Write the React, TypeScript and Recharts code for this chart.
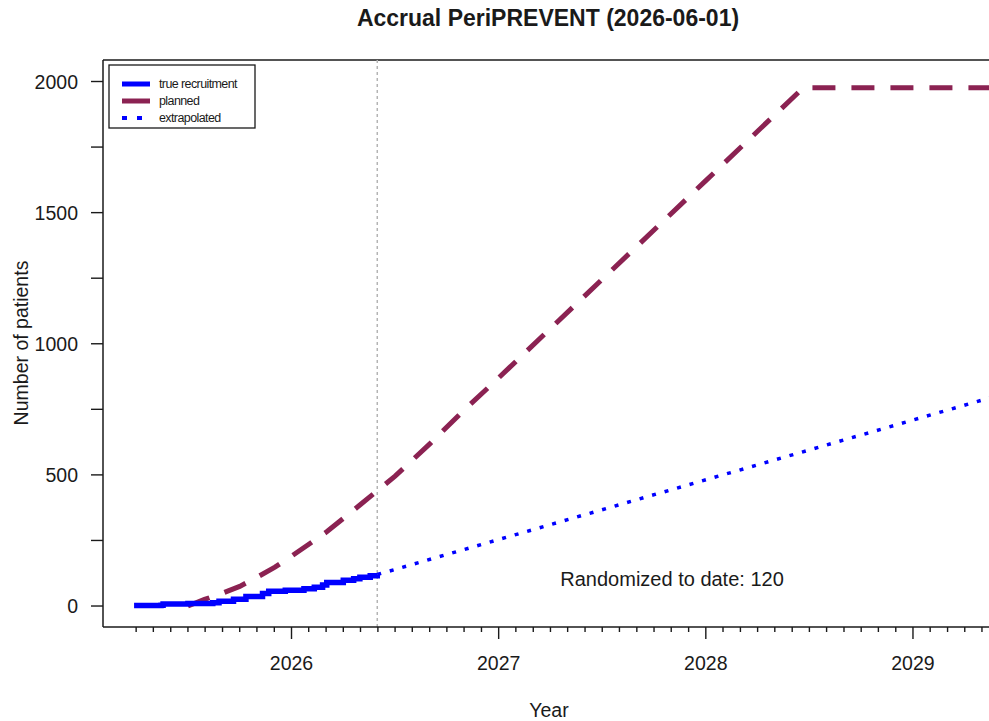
import React from "react";
import {
  LineChart,
  Line,
  XAxis,
  YAxis,
  ReferenceLine,
  ReferenceDot,
} from "recharts";

// cumulative randomized patients (decimal year)
const actualYears = [
  2025.24, 2025.37, 2025.38, 2025.5, 2025.62, 2025.65, 2025.72, 2025.78, 2025.86, 2025.89,
  2025.97, 2026.06, 2026.11, 2026.15, 2026.17, 2026.25, 2026.3, 2026.33, 2026.38, 2026.414,
];
const actualCounts = [2, 3, 8, 10, 12, 18, 26, 36, 48, 56, 60, 66, 72, 80, 90, 98, 104, 110, 115, 120];

const plannedYears = [
  2025.5, 2025.58, 2025.67, 2025.75, 2025.83, 2025.92, 2026.0, 2026.17, 2026.33, 2026.5,
  2026.67, 2026.83, 2027.0, 2027.5, 2028.0, 2028.47, 2029.5,
];
const plannedCounts = [0, 25, 50, 75, 108, 148, 190, 283, 385, 495, 620, 745, 870, 1246, 1622, 1976, 1976];

const extrapYears = [2026.414, 2029.5];
const extrapCounts = [120, 823];

const yearTicks = [2026, 2027, 2028, 2029];
const countTicks = [0, 250, 500, 750, 1000, 1250, 1500, 1750, 2000];
const labelledCounts = [0, 500, 1000, 1500, 2000];
const firstMonthTick = 2025.25;
const monthTickCount = 50;

const cutoffYear = 2026.414;
const randomizedToDate = 120;

const X_MIN = 2025.09;
const X_MAX = 2029.367;
const Y_MIN = -80;
const Y_MAX = 2082;

const FONT = '"Liberation Sans", Arial, Helvetica, sans-serif';
const INK = "#1a1a1a";
const BLUE = "#0000ff";
const PLUM = "#8b2252";

const toSeries = (xs: number[], ys: number[]) => xs.map((t, i) => ({ t, n: ys[i] }));

const actualData = toSeries(actualYears, actualCounts);
const plannedData = toSeries(plannedYears, plannedCounts);
const extrapData = toSeries(extrapYears, extrapCounts);

const monthTicks: number[] = [];
for (let i = 0; i < monthTickCount; i++) {
  const v = Math.round((firstMonthTick + i / 12) * 1000) / 1000;
  if (v <= X_MAX) monthTicks.push(v);
}
const xTicks = Array.from(new Set([...monthTicks, ...yearTicks])).sort((a, b) => a - b);

const XTick = (props: any) => {
  const { x, y, payload } = props;
  const v = payload.value;
  const major = yearTicks.some((yr) => Math.abs(yr - v) < 0.01);
  return (
    <g>
      <line x1={x} x2={x} y1={y} y2={y + (major ? 12 : 5)} stroke={INK} strokeWidth={1.4} />
      {major && (
        <text x={x} y={y + 43} textAnchor="middle" fontFamily={FONT} fontSize={19.5} fill={INK}>
          {Math.round(v)}
        </text>
      )}
    </g>
  );
};

const YTick = (props: any) => {
  const { x, y, payload } = props;
  const v = payload.value;
  const labelled = labelledCounts.includes(v);
  return (
    <g>
      <line x1={x - 12} x2={x} y1={y} y2={y} stroke={INK} strokeWidth={1.4} />
      {labelled && (
        <text x={x - 25} y={y + 7} textAnchor="end" fontFamily={FONT} fontSize={19.5} fill={INK}>
          {v}
        </text>
      )}
    </g>
  );
};

const legendItems = [
  { label: "true recruitment", color: BLUE, width: 5, dash: undefined as string | undefined },
  { label: "planned", color: PLUM, width: 5, dash: undefined },
  { label: "extrapolated", color: BLUE, width: 4, dash: "5 10" },
];

export default function App() {
  return (
    <div style={{ position: "absolute", left: 0, top: 0, width: 989, height: 721, background: "#fff" }}>
      <LineChart width={989} height={721} margin={{ top: 60, right: 0, bottom: 0, left: 0 }}>
        <XAxis
          type="number"
          dataKey="t"
          domain={[X_MIN, X_MAX]}
          allowDataOverflow
          ticks={xTicks}
          interval={0}
          tick={<XTick />}
          tickLine={false}
          tickSize={0}
          tickMargin={0}
          height={94}
          axisLine={{ stroke: INK, strokeWidth: 1.5 }}
        />
        <YAxis
          type="number"
          dataKey="n"
          domain={[Y_MIN, Y_MAX]}
          allowDataOverflow
          ticks={countTicks}
          interval={0}
          tick={<YTick />}
          tickLine={false}
          tickSize={0}
          tickMargin={0}
          width={103}
          axisLine={{ stroke: INK, strokeWidth: 1.5 }}
        />
        <ReferenceLine y={Y_MAX} stroke={INK} strokeWidth={1.5} />
        <ReferenceLine x={cutoffYear} stroke="#b4b4b4" strokeWidth={1.5} strokeDasharray="3 3" />
        <Line
          data={plannedData}
          dataKey="n"
          type="linear"
          stroke={PLUM}
          strokeWidth={5}
          strokeDasharray="23 16"
          dot={false}
          isAnimationActive={false}
        />
        <Line
          data={extrapData}
          dataKey="n"
          type="linear"
          stroke={BLUE}
          strokeWidth={3.5}
          strokeDasharray="4 9"
          dot={false}
          isAnimationActive={false}
        />
        <Line
          data={actualData}
          dataKey="n"
          type="stepAfter"
          stroke={BLUE}
          strokeWidth={5.5}
          dot={false}
          isAnimationActive={false}
        />
        <ReferenceDot
          x={2027.837}
          y={103}
          r={0}
          fill="none"
          stroke="none"
          label={{
            value: `Randomized to date: ${randomizedToDate}`,
            position: "center",
            fontFamily: FONT,
            fontSize: 20,
            fill: INK,
          }}
        />
      </LineChart>
      <svg
        width={989}
        height={721}
        style={{ position: "absolute", left: 0, top: 0, pointerEvents: "none" }}
      >
        <text x={548} y={26} textAnchor="middle" fontFamily={FONT} fontSize={23} fontWeight="bold" fill={INK}>
          Accrual PeriPREVENT (2026-06-01)
        </text>
        <text x={549} y={717} textAnchor="middle" fontFamily={FONT} fontSize={19.5} fill={INK}>
          Year
        </text>
        <text
          transform="translate(28 343) rotate(-90)"
          textAnchor="middle"
          fontFamily={FONT}
          fontSize={19.5}
          fill={INK}
        >
          Number of patients
        </text>
        <rect x={109} y={65} width={146} height={63} fill="#fff" stroke={INK} strokeWidth={1.3} />
        {legendItems.map((it, i) => {
          const cy = 84 + i * 17;
          return (
            <g key={it.label}>
              <line
                x1={122}
                x2={150}
                y1={cy}
                y2={cy}
                stroke={it.color}
                strokeWidth={it.width}
                strokeDasharray={it.dash}
              />
              <text
                x={159}
                y={cy + 4}
                fontFamily={FONT}
                fontSize={12.5}
                letterSpacing={-0.6}
                fill={INK}
              >
                {it.label}
              </text>
            </g>
          );
        })}
      </svg>
    </div>
  );
}
